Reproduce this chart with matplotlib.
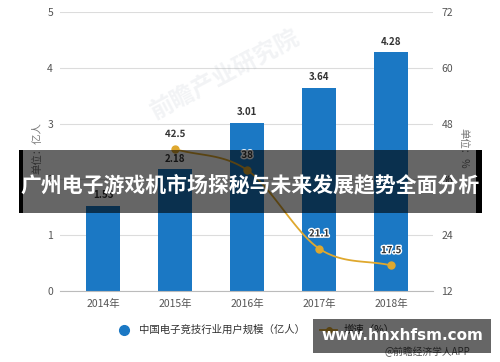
import numpy as np
import matplotlib
matplotlib.use("Agg")
import matplotlib.pyplot as plt
from matplotlib.patches import Rectangle
from matplotlib.lines import Line2D
import matplotlib.patheffects as pe

plt.rcParams['font.family'] = ['Noto Sans CJK SC', 'DejaVu Sans']

years = ["2014年", "2015年", "2016年", "2017年", "2018年"]
users = [1.53, 2.18, 3.01, 3.64, 4.28]
growth_years_idx = [1, 2, 3, 4]
growth = [42.5, 38, 21.1, 17.5]
growth_labels = ["42.5", "38", "21.1", "17.5"]
left_ticks = [0, 1, 2, 3, 4, 5]
right_ticks = [12, 24, 36, 48, 60, 72]

bar_color = "#1b78c4"
line_color = "#dfa82e"
text_gray = "#555555"

W, H = 500, 362
fig = plt.figure(figsize=(5, 3.62), dpi=100)
ax = fig.add_axes([60/W, 1-291/H, (433-60)/W, (291-12)/H])
ax2 = ax.twinx()

x = np.arange(len(years))
ax.bar(x, users, width=0.47, color=bar_color, zorder=2)
ax.set_xlim(-0.6, 4.58)
ax.set_ylim(0, 5)
ax.set_yticks(left_ticks)
ax.set_xticks(x)
ax.set_xticklabels(years)
ax.grid(axis='y', color='#dcdcdc', linewidth=0.8, zorder=0)
ax.set_axisbelow(True)
for s in ['top', 'right', 'left']:
    ax.spines[s].set_visible(False)
ax.spines['bottom'].set_color('#bbbbbb')
ax.tick_params(axis='both', length=0, labelsize=7.5, colors=text_gray, pad=6)
ax.tick_params(axis='y', pad=5)

for xi, v in zip(x, users):
    ax.text(xi, v + 0.1, f"{v:.2f}", ha='center', va='bottom', fontsize=7,
            fontweight='bold', color='#333333', zorder=5)

# smooth line through growth points (Catmull-Rom)
gx = np.array(growth_years_idx, dtype=float)
gy = np.array(growth, dtype=float)
px = np.concatenate([[2*gx[0]-gx[1]], gx, [2*gx[-1]-gx[-2]]])
py = np.concatenate([[2*gy[0]-gy[1]], gy, [2*gy[-1]-gy[-2]]])
cx, cy = [], []
t = np.linspace(0, 1, 40)
for i in range(1, len(px)-2):
    p0, p1, p2, p3 = px[i-1], px[i], px[i+1], px[i+2]
    q0, q1, q2, q3 = py[i-1], py[i], py[i+1], py[i+2]
    bx = 0.5*((2*p1) + (-p0+p2)*t + (2*p0-5*p1+4*p2-p3)*t**2 + (-p0+3*p1-3*p2+p3)*t**3)
    by = 0.5*((2*q1) + (-q0+q2)*t + (2*q0-5*q1+4*q2-q3)*t**2 + (-q0+3*q1-3*q2+q3)*t**3)
    cx.extend(bx); cy.extend(by)
ax2.plot(cx, cy, color=line_color, linewidth=1.3, zorder=3)
ax2.plot(gx, gy, 'o', color=line_color, markersize=5, zorder=4)
for xi, v, lab in zip(gx, gy, growth_labels):
    ax2.text(xi, v + 2.2, lab, ha='center', va='bottom', fontsize=7,
             fontweight='bold', color='#333333', zorder=6,
             path_effects=[pe.withStroke(linewidth=2, foreground='white')])
ax2.set_ylim(12, 72)
ax2.set_yticks(right_ticks)
for s in ['top', 'right', 'left', 'bottom']:
    ax2.spines[s].set_visible(False)
ax2.tick_params(axis='y', length=0, labelsize=7.5, colors=text_gray, pad=6)
ax.set_zorder(1); ax2.set_zorder(2); ax2.patch.set_visible(False)

fig.text(37/W, 1-148/H, "单位：亿人", rotation=90, ha='center', va='center',
         fontsize=7.5, color='#777777')
fig.text(463/W, 1-148/H, "单位：%", rotation=-90, ha='center', va='center',
         fontsize=7.5, color='#777777')

# watermark
fig.text(225/W, 1-75/H, "前瞻产业研究院", rotation=28, ha='center', va='center',
         fontsize=17, fontweight='bold', color='#9aa7b5', alpha=0.13)

# legend
handles = [Line2D([], [], marker='o', color=bar_color, linestyle='None', markersize=7),
           Line2D([], [], marker='o', color=line_color, linewidth=1.3, markersize=4)]
fig.legend(handles, ["中国电子竞技行业用户规模（亿人）", "增速（%）"],
           loc='center', bbox_to_anchor=(255/W, 1-330/H), ncol=2, frameon=False,
           fontsize=7.5, handlelength=1.6, columnspacing=1.5, handletextpad=0.6,
           labelcolor='#333333')

fig.text(427/W, 1-352/H, "@前瞻经济学人APP", ha='center', va='center',
         fontsize=7, color='#555555')

# title banner overlay
fig.add_artist(Rectangle((19/W, 1-213/H), (482-19)/W, (213-150)/H,
                         transform=fig.transFigure, color='black', alpha=0.6,
                         linewidth=0, zorder=10))
fig.add_artist(Rectangle((19/W, 1-213/H), 4/W, (213-150)/H,
                         transform=fig.transFigure, color='black', linewidth=0, zorder=11))
fig.add_artist(Rectangle((476/W, 1-213/H), 6/W, (213-150)/H,
                         transform=fig.transFigure, color='black', linewidth=0, zorder=11))
fig.text(250/W, 1-185/H, "广州电子游戏机市场探秘与未来发展趋势全面分析",
         ha='center', va='center', fontsize=15, fontweight='bold', color='white', zorder=12)

# url banner
fig.add_artist(Rectangle((313/W, 1-353/H), (491-313)/W, (353-319)/H,
                         transform=fig.transFigure, color='black', alpha=0.6,
                         linewidth=0, zorder=10))
fig.text(402/W, 1-335/H, "www.hnxhfsm.com", ha='center', va='center',
         fontsize=11, fontweight='bold', color='white', family='DejaVu Sans', zorder=12)

fig.savefig("out.png", dpi=100)
